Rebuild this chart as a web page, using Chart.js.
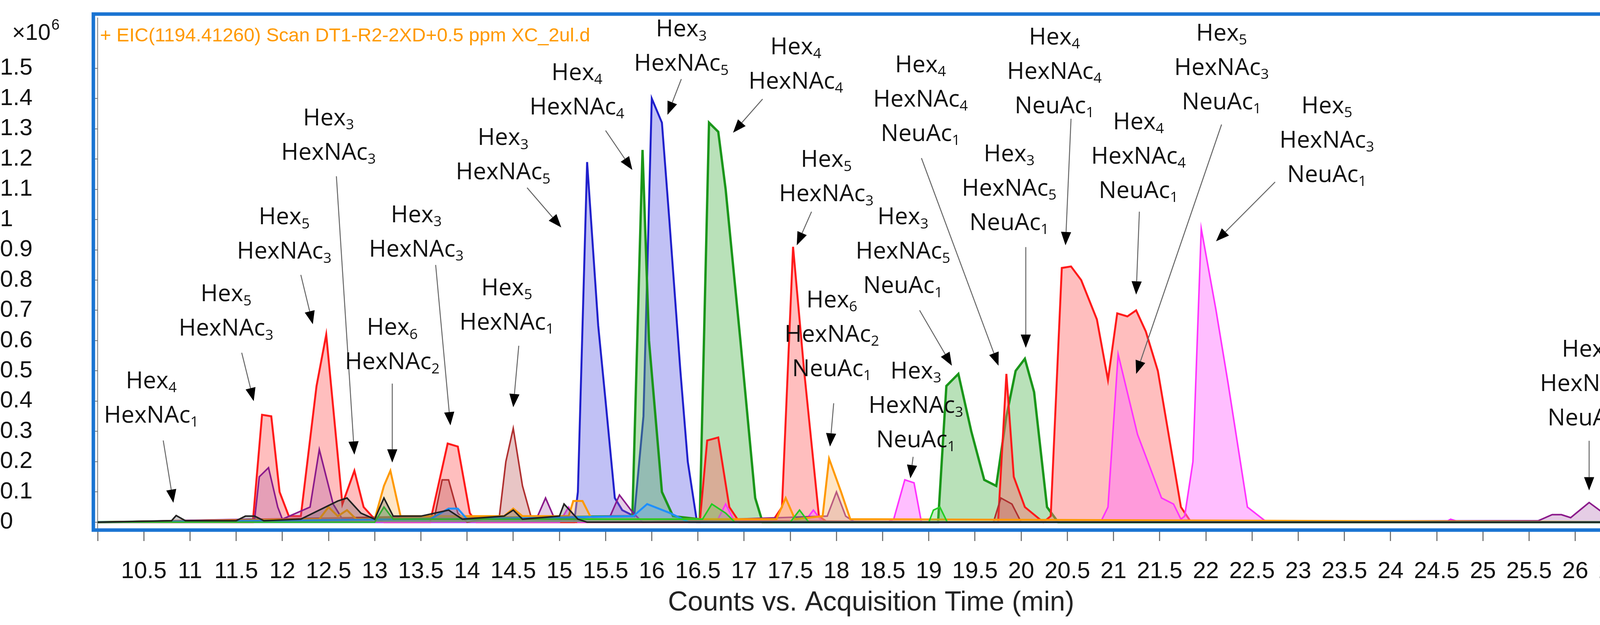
<!DOCTYPE html>
<html><head><meta charset="utf-8">
<script src="https://cdn.jsdelivr.net/npm/chart.js@4.4.0/dist/chart.umd.min.js"></script>
<style>html,body{margin:0;padding:0;background:#fff}#wrap{width:4272px;height:1600px}</style>
</head><body><div id="wrap"><canvas id="c" width="4272" height="1600"></canvas></div>
<script>
// ---- data (time in min, counts in 1e6) ----
const redX=[10.0,11.68,11.78,11.88,11.97,12.07,12.2,12.37,12.475,12.65,12.78,12.88,13.0,13.1,13.6,13.79,13.9,14.03,14.1,16.52,16.6,16.72,16.84,16.95,17.3,17.41,17.53,17.65,17.81,17.9,19.75,19.84,19.92,20.04,20.24,20.32,20.44,20.54,20.65,20.82,20.94,21.04,21.15,21.245,21.35,21.48,21.73,21.84,26.7];
const redY=[0,0,0.355,0.35,0.10,0.02,0.02,0.45,0.62,0.06,0.17,0.05,0.01,0,0,0.26,0.25,0.03,0,0,0.27,0.28,0.05,0,0,0.05,0.91,0.50,0.02,0,0,0.49,0.15,0.05,0,0.02,0.84,0.845,0.80,0.67,0.47,0.69,0.68,0.70,0.63,0.50,0.05,0,0];
const magX=[10.0,15.0,15.1,15.2,16.7,16.8,16.9,17.65,17.75,17.85,18.55,18.62,18.74,18.84,18.92,20.86,20.94,21.05,21.26,21.52,21.65,21.73,21.77,21.86,21.95,22.11,22.24,22.45,22.66,24.6,24.65,24.75,26.7];
const magY=[0,0,0.05,0,0,0.06,0,0,0.04,0,0,0.01,0.14,0.13,0,0,0.05,0.555,0.29,0.08,0.06,0.01,0.02,0.20,0.97,0.70,0.46,0.05,0,0,0.01,0,0];
const blueX=[10.0,15.16,15.2,15.30,15.42,15.5,15.6,15.68,15.81,15.91,16.0,16.11,16.19,16.31,16.39,16.49,26.7];
const blueY=[0,0,0.10,1.19,0.65,0.40,0.08,0.04,0.02,0.35,1.40,1.32,1.00,0.50,0.20,0,0];
const greenX=[10.0,15.79,15.90,15.97,16.11,16.23,16.52,16.62,16.72,16.80,16.96,17.12,17.2,19.1,19.19,19.32,19.46,19.6,19.73,19.84,19.94,20.04,20.14,20.28,20.4,26.7];
const greenY=[0,0.02,1.23,0.60,0.10,0.02,0.01,1.32,1.29,1.10,0.60,0.08,0,0,0.45,0.49,0.30,0.14,0.12,0.35,0.50,0.54,0.43,0.05,0,0];
const brownX=[10.0,13.65,13.73,13.8,13.9,14.0,14.35,14.42,14.5,14.6,14.7,19.7,19.78,19.9,20.0,26.7];
const brownY=[0,0.02,0.14,0.14,0.03,0,0.02,0.20,0.31,0.12,0.01,0,0.08,0.06,0,0];
const purpleX=[10.0,11.7,11.75,11.85,11.95,12.0,12.3,12.4,12.55,12.65,14.75,14.85,14.95,15.55,15.65,15.8,15.9,17.9,18.0,18.1,18.2,25.6,25.75,25.85,25.95,26.05,26.15,26.35,26.45,26.7];
const purpleY=[0,0.01,0.15,0.18,0.05,0.01,0.05,0.24,0.06,0.01,0.01,0.08,0.01,0.02,0.09,0.03,0,0.02,0.10,0.02,0,0.005,0.025,0.025,0.015,0.04,0.065,0.02,0,0];
const orangeX=[10.0,12.4,12.5,12.6,12.7,12.8,13.0,13.1,13.17,13.28,14.4,14.5,14.6,15.1,15.15,15.25,15.35,17.35,17.45,17.55,17.85,17.92,18.05,18.15,26.7];
const orangeY=[0,0.01,0.05,0.02,0.04,0.01,0.01,0.12,0.17,0.02,0.02,0.045,0.02,0.02,0.07,0.07,0.01,0.01,0.08,0.01,0.02,0.21,0.10,0.01,0];
const blackX=[10.0,10.8,10.85,10.95,11.5,11.6,11.7,11.8,12.2,12.6,12.7,12.85,13.0,13.1,13.2,13.5,13.8,13.95,14.4,14.5,14.6,15.0,15.05,15.2,15.3,26.7];
const blackY=[0,0.005,0.022,0.005,0.005,0.02,0.02,0.005,0.01,0.07,0.08,0.03,0.01,0.08,0.02,0.02,0.04,0.01,0.02,0.04,0.01,0.02,0.06,0.01,0,0];
const ltblueX=[10.0,13.6,13.8,13.9,14.0,15.8,15.95,16.2,16.4,26.7];
const ltblueY=[0,0.01,0.045,0.045,0.01,0.02,0.06,0.03,0,0];
const ltgreenX=[10.0,13.0,13.1,13.2,16.55,16.65,16.8,16.9,17.5,17.6,17.7,19.0,19.05,19.12,19.2,26.7];
const ltgreenY=[0,0,0.05,0.01,0.01,0.06,0.03,0,0,0.04,0,0,0.04,0.05,0,0];
const xTicks=[10,10.5,11,11.5,12,12.5,13,13.5,14,14.5,15,15.5,16,16.5,17,17.5,18,18.5,19,19.5,20,20.5,21,21.5,22,22.5,23,23.5,24,24.5,25,25.5,26,26.5];
const yTicks=[0,0.1,0.2,0.3,0.4,0.5,0.6,0.7,0.8,0.9,1,1.1,1.2,1.3,1.4,1.5];
// annotations: [lines, text center x, first line y, arrow start x,y, arrow tip x,y] (data units)
const notes=[
 [["Hex_4","HexNAc_1"],10.58,0.465,10.71,0.27,10.82,0.064],
 [["Hex_5","HexNAc_3"],11.39,0.752,11.56,0.56,11.69,0.40],
 [["Hex_5","HexNAc_3"],12.02,1.006,12.20,0.817,12.33,0.654],
 [["Hex_3","HexNAc_3"],12.50,1.333,12.585,1.143,12.78,0.223],
 [["Hex_6","HexNAc_2"],13.19,0.641,13.19,0.458,13.19,0.197],
 [["Hex_3","HexNAc_3"],13.45,1.013,13.66,0.85,13.82,0.32],
 [["Hex_5","HexNAc_1"],14.43,0.772,14.56,0.583,14.50,0.38],
 [["Hex_3","HexNAc_5"],14.39,1.268,14.65,1.105,15.02,0.974],
 [["Hex_4","HexNAc_4"],15.19,1.483,15.50,1.294,15.79,1.164],
 [["Hex_3","HexNAc_5"],16.32,1.627,16.32,1.464,16.17,1.346],
 [["Hex_4","HexNAc_4"],17.56,1.568,17.20,1.398,16.88,1.287],
 [["Hex_5","HexNAc_3"],17.89,1.196,17.73,1.026,17.57,0.915],
 [["Hex_6","HexNAc_2","NeuAc_1"],17.95,0.732,17.97,0.393,17.93,0.25],
 [["Hex_3","HexNAc_5","NeuAc_1"],18.72,1.006,18.90,0.70,19.25,0.517],
 [["Hex_3","HexNAc_3","NeuAc_1"],18.86,0.497,18.83,0.216,18.80,0.145],
 [["Hex_4","HexNAc_4","NeuAc_1"],18.91,1.509,18.92,1.203,19.755,0.517],
 [["Hex_3","HexNAc_5","NeuAc_1"],19.87,1.215,20.05,0.909,20.05,0.576],
 [["Hex_4","HexNAc_4","NeuAc_1"],20.36,1.60,20.54,1.333,20.48,0.915],
 [["Hex_4","HexNAc_4","NeuAc_1"],21.27,1.32,21.28,1.026,21.245,0.752],
 [["Hex_5","HexNAc_3","NeuAc_1"],22.17,1.613,22.17,1.314,21.245,0.49],
 [["Hex_5","HexNAc_3","NeuAc_1"],23.31,1.373,22.75,1.124,22.11,0.928],
 [["Hex_5","HexNAc_3","NeuAc_2"],26.13,0.569,26.15,0.269,26.15,0.105]
];
const titleText="+ EIC(1194.41260) Scan DT1-R2-2XD+0.5 ppm XC_2ul.d";
const xTitle="Counts vs. Acquisition Time (min)";

function pts(xs,ys){return xs.map((x,i)=>({x:x,y:ys[i]}));}
function ds(label,xs,ys,line,fill,w){return {label,data:pts(xs,ys),borderColor:line,backgroundColor:fill,fill:'origin',borderWidth:w||5,pointRadius:0,tension:0};}
const datasets=[
 ds('black',blackX,blackY,'#222','rgba(90,90,90,0.3)',4),
 ds('ltgreen',ltgreenX,ltgreenY,'#22cc22','rgba(80,200,80,0.3)',4),
 ds('ltblue',ltblueX,ltblueY,'#1e90ff','rgba(90,160,255,0.3)',5),
 ds('orange',orangeX,orangeY,'#ff9900','rgba(255,190,110,0.4)',5),
 ds('purple',purpleX,purpleY,'#8b1a8b','rgba(170,90,170,0.3)',4),
 ds('brown',brownX,brownY,'#b03030','rgba(190,90,90,0.35)',4),
 ds('magenta',magX,magY,'#ff33ff','rgba(255,110,255,0.45)',4),
 ds('red',redX,redY,'#ff1a1a','rgba(255,110,110,0.45)',5),
 ds('green',greenX,greenY,'#1a961a','rgba(80,180,80,0.4)',6),
 ds('blue',blueX,blueY,'#2020cc','rgba(100,100,230,0.4)',5)
];
const FONT="'Liberation Sans', Arial, sans-serif";
const NFONT="'Open Sans', sans-serif";
function drawSub(ctx,str,cx,cy,size){
  const parts=str.split('_');const main=parts[0],sub=parts[1]||'';
  ctx.font=size+"px "+NFONT;const w1=ctx.measureText(main).width;
  ctx.font=Math.round(size*0.62)+"px "+NFONT;const w2=ctx.measureText(sub).width;
  let x=cx-(w1+w2)/2;
  ctx.textAlign='left';ctx.textBaseline='middle';ctx.fillStyle='#111';
  ctx.font=size+"px "+NFONT;ctx.fillText(main,x,cy);
  ctx.font=Math.round(size*0.62)+"px "+NFONT;ctx.fillText(sub,x+w1,cy+size*0.28);
}
const deco={id:'deco',
 afterDatasetsDraw(chart){
  const ctx=chart.ctx,xs=chart.scales.x,ys=chart.scales.y;
  ctx.save();
  ctx.strokeStyle='#1a74d2';ctx.lineWidth=9;
  ctx.strokeRect(239,36,4229-239,1357-36);
  ctx.fillStyle='#ff9900';ctx.font="49px "+FONT;ctx.textAlign='left';ctx.textBaseline='middle';
  ctx.fillText(titleText,256,92);
  ctx.fillStyle='#111';ctx.font="58px "+FONT;ctx.fillText("×10",31,86);
  const w=ctx.measureText("×10").width;ctx.font="38px "+FONT;ctx.fillText("6",31+w+2,66);
  notes.forEach(n=>{
    const [lines,tx,ty,ax,ay,bx,by]=n;
    const cx=xs.getPixelForValue(tx),cy=ys.getPixelForValue(ty);
    lines.forEach((l,i)=>drawSub(ctx,l,cx,cy+i*88,60));
    const x1=xs.getPixelForValue(ax),y1=ys.getPixelForValue(ay),x2=xs.getPixelForValue(bx),y2=ys.getPixelForValue(by);
    const ang=Math.atan2(y2-y1,x2-x1),L=34,H=13;
    const hx=x2-L*Math.cos(ang),hy=y2-L*Math.sin(ang);
    ctx.strokeStyle='#666';ctx.lineWidth=2.5;ctx.beginPath();ctx.moveTo(x1,y1);ctx.lineTo(hx,hy);ctx.stroke();
    ctx.fillStyle='#000';ctx.beginPath();ctx.moveTo(x2,y2);
    ctx.lineTo(hx+H*Math.sin(ang),hy-H*Math.cos(ang));ctx.lineTo(hx-H*Math.sin(ang),hy+H*Math.cos(ang));ctx.closePath();ctx.fill();
  });
  ctx.restore();
 }};
new Chart(document.getElementById('c'),{type:'line',data:{datasets},
 options:{responsive:false,animation:false,devicePixelRatio:1,
  layout:{padding:{left:0,right:62,top:36,bottom:0}},
  plugins:{legend:{display:false},tooltip:{enabled:false}},
  scales:{
   x:{type:'linear',min:10.0,max:26.75,
      afterBuildTicks(s){s.ticks=xTicks.map(v=>({value:v}));},
      afterFit(s){s.height=243;},
      grid:{drawOnChartArea:false,drawTicks:true,tickLength:28,color:'#777',lineWidth:3,offset:false},
      border:{display:false},
      ticks:{color:'#111',font:{size:60,family:FONT},padding:42,maxRotation:0,autoSkip:false,callback:v=>v===10?'':String(v)},
      title:{display:true,text:xTitle,color:'#222',font:{size:70,family:FONT},padding:{top:0,bottom:14}}},
   y:{type:'linear',min:-0.026,max:1.666,
      afterBuildTicks(s){s.ticks=yTicks.map(v=>({value:v}));},
      afterFit(s){s.width=250;},
      grid:{drawOnChartArea:false,tickLength:14,color:'#777',lineWidth:2},
      border:{display:true,color:'#777',width:2},
      ticks:{color:'#111',font:{size:60,family:FONT},crossAlign:'far',padding:10,callback:v=>String(v)}}
  }},
 plugins:[deco]});
</script></body></html>
